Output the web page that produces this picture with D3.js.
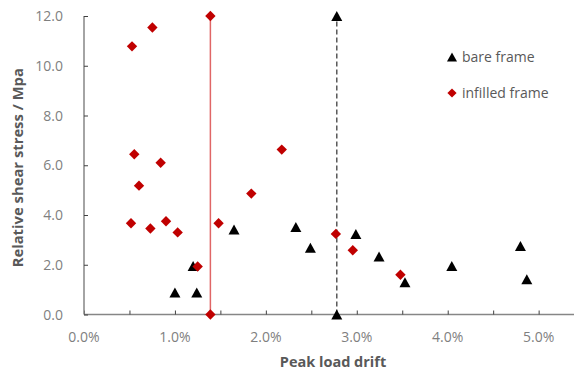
<!DOCTYPE html>
<html>
<head>
<meta charset="utf-8">
<script src="https://cdn.jsdelivr.net/npm/d3@7"></script>
<style>
  html, body { margin: 0; padding: 0; background: #fff; }
  svg { display: block; }
</style>
</head>
<body>
<svg id="chart" width="574" height="374"></svg>
<script>
// ---- data (drift in %, stress in MPa) ----
const bareDrift   = [1.00, 1.24, 1.20, 1.65, 2.33, 2.49, 2.99, 3.245, 3.53, 4.045, 4.80, 4.87];
const bareStress  = [0.88, 0.88, 1.95, 3.42, 3.52, 2.68, 3.24, 2.33, 1.30, 1.95, 2.75, 1.42];
const infDrift    = [0.528, 0.752, 0.553, 0.843, 0.605, 2.175, 1.84, 0.517, 0.73, 0.902, 1.03, 1.48, 1.25, 2.77, 2.956, 3.48];
const infStress   = [10.78, 11.54, 6.44, 6.10, 5.18, 6.63, 4.86, 3.67, 3.46, 3.75, 3.30, 3.67, 1.93, 3.24, 2.58, 1.60];
const bareMeanDrift = [2.78, 2.78];
const bareMeanStress = [0, 12];
const infMeanDrift = [1.39, 1.39];
const infMeanStress = [0, 12];
const xTicks = [0, 1, 2, 3, 4, 5];
const xMinorTicks = [0, 0.5, 1, 1.5, 2, 2.5, 3, 3.5, 4, 4.5, 5];
const yTicks = [0, 2, 4, 6, 8, 10, 12];
const seriesNames = ["bare frame", "infilled frame"];

const svg = d3.select("#chart");
const x = d3.scaleLinear().domain([0, 5.4]).range([84, 575]);
const y = d3.scaleLinear().domain([0, 12]).range([314.5, 16]);

const tickColor = "#7f7f7f";
const titleColor = "#595959";
const axisColor = "#868686";
const font = "'Open Sans', 'Noto Sans', sans-serif";

// triangle path centered on bounding box
function triPath(w, h) {
  const p = d3.path();
  p.moveTo(0, -h / 2); p.lineTo(w / 2, h / 2); p.lineTo(-w / 2, h / 2); p.closePath();
  return p.toString();
}
function diaPath(r) {
  const p = d3.path();
  p.moveTo(0, -r); p.lineTo(r, 0); p.lineTo(0, r); p.lineTo(-r, 0); p.closePath();
  return p.toString();
}

// ---- axes ----
const xAxis = d3.axisBottom(x).tickValues(xMinorTicks).tickSize(-4).tickFormat("");
const gx = svg.append("g").attr("transform", `translate(0,${y(0)})`).call(xAxis);
gx.select(".domain").attr("stroke", axisColor).attr("stroke-width", 1.5).attr("d", `M${x(0)},0H574`);
gx.selectAll(".tick line").attr("stroke", "#404040").attr("stroke-width", 1);

svg.append("g").selectAll("text").data(xTicks).join("text")
  .attr("x", d => x(d)).attr("y", 342)
  .attr("text-anchor", "middle")
  .attr("font-family", font).attr("font-size", 14).attr("fill", tickColor)
  .text(d => d.toFixed(1) + "%");

const yAxis = d3.axisLeft(y).tickValues(yTicks).tickSize(-4).tickFormat("");
const gy = svg.append("g").attr("transform", `translate(${x(0)},0)`).call(yAxis);
gy.select(".domain").attr("stroke", axisColor).attr("stroke-width", 1.5).attr("d", `M0,${y(12)}V${y(0)}`);
gy.selectAll(".tick line").attr("stroke", "#404040").attr("stroke-width", 1);

svg.append("g").selectAll("text").data(yTicks).join("text")
  .attr("x", 63).attr("y", d => y(d) + 5)
  .attr("text-anchor", "end")
  .attr("font-family", font).attr("font-size", 14).attr("fill", tickColor)
  .text(d => d.toFixed(1));

// axis titles
svg.append("text").attr("x", 333).attr("y", 367).attr("text-anchor", "middle")
  .attr("font-family", font).attr("font-size", 14.5).attr("font-weight", "bold")
  .attr("fill", titleColor).text("Peak load drift");
svg.append("text").attr("transform", `translate(23,${y(5.9)}) rotate(-90)`)
  .attr("text-anchor", "middle")
  .attr("font-family", font).attr("font-size", 14.8).attr("font-weight", "bold")
  .attr("fill", titleColor).text("Relative shear stress / Mpa");

// ---- vertical reference lines ----
const line = d3.line().x(d => x(d[0])).y(d => y(d[1]));
svg.append("path").datum(d3.zip(infMeanDrift, infMeanStress))
  .attr("d", line).attr("fill", "none").attr("stroke", "#e06666").attr("stroke-width", 1.5);
svg.append("path").datum(d3.zip(bareMeanDrift, bareMeanStress))
  .attr("d", line).attr("fill", "none").attr("stroke", "#595959").attr("stroke-width", 1.5)
  .attr("stroke-dasharray", "5,3");

// ---- markers ----
const tri = triPath(11, 10);
const dia = diaPath(5.2);
const bareData = d3.zip(bareDrift.concat(bareMeanDrift), bareStress.concat(bareMeanStress));
const infData = d3.zip(infDrift.concat(infMeanDrift), infStress.concat(infMeanStress));

svg.append("g").selectAll("path").data(bareData).join("path")
  .attr("d", tri).attr("transform", d => `translate(${x(d[0])},${y(d[1])})`)
  .attr("fill", "#000");
svg.append("g").selectAll("path").data(infData).join("path")
  .attr("d", dia).attr("transform", d => `translate(${x(d[0])},${y(d[1])})`)
  .attr("fill", "#c00000");

// ---- legend ----
const legY = [57, 93];
const leg = svg.append("g");
leg.append("path").attr("d", triPath(10, 9)).attr("transform", `translate(452,${legY[0]})`).attr("fill", "#000");
leg.append("path").attr("d", diaPath(4.6)).attr("transform", `translate(452,${legY[1]})`).attr("fill", "#c00000");
leg.selectAll("text").data(seriesNames).join("text")
  .attr("x", 462).attr("y", (d, i) => legY[i] + 5)
  .attr("font-family", font).attr("font-size", 14).attr("fill", titleColor)
  .text(d => d);
</script>
</body>
</html>
